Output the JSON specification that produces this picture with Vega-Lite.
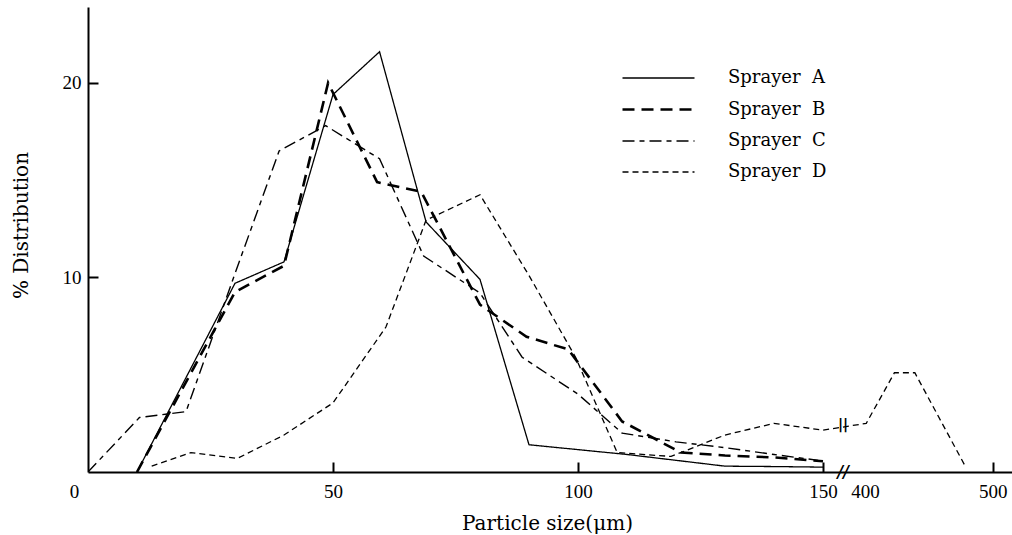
{
  "$schema": "https://vega.github.io/schema/vega-lite/v6.json",
  "width": 924,
  "height": 465,
  "autosize": "none",
  "padding": {"left": 88, "top": 7, "right": 0, "bottom": 63},
  "background": "white",
  "config": {"view": {"stroke": null}},
  "data": {"values": [
    {"s": "Sprayer A", "x": 10, "y": 0},
    {"s": "Sprayer A", "x": 30, "y": 9.7},
    {"s": "Sprayer A", "x": 40, "y": 10.8},
    {"s": "Sprayer A", "x": 50, "y": 19.4},
    {"s": "Sprayer A", "x": 59.5, "y": 21.6},
    {"s": "Sprayer A", "x": 69, "y": 12.85},
    {"s": "Sprayer A", "x": 80, "y": 9.9},
    {"s": "Sprayer A", "x": 90, "y": 1.4},
    {"s": "Sprayer A", "x": 100, "y": 1.15},
    {"s": "Sprayer A", "x": 110, "y": 0.9},
    {"s": "Sprayer A", "x": 120, "y": 0.6},
    {"s": "Sprayer A", "x": 130, "y": 0.3},
    {"s": "Sprayer A", "x": 140, "y": 0.28},
    {"s": "Sprayer A", "x": 150, "y": 0.25},
    {"s": "Sprayer B", "x": 10, "y": 0},
    {"s": "Sprayer B", "x": 30, "y": 9.25},
    {"s": "Sprayer B", "x": 40, "y": 10.6},
    {"s": "Sprayer B", "x": 49, "y": 20.0},
    {"s": "Sprayer B", "x": 59, "y": 14.9},
    {"s": "Sprayer B", "x": 68, "y": 14.4},
    {"s": "Sprayer B", "x": 80, "y": 8.6},
    {"s": "Sprayer B", "x": 89.5, "y": 6.95},
    {"s": "Sprayer B", "x": 98, "y": 6.3},
    {"s": "Sprayer B", "x": 109, "y": 2.6},
    {"s": "Sprayer B", "x": 121, "y": 1.0},
    {"s": "Sprayer B", "x": 130, "y": 0.85},
    {"s": "Sprayer B", "x": 140, "y": 0.75},
    {"s": "Sprayer B", "x": 150, "y": 0.55},
    {"s": "Sprayer C", "x": 0, "y": 0},
    {"s": "Sprayer C", "x": 10.5, "y": 2.8},
    {"s": "Sprayer C", "x": 20, "y": 3.1},
    {"s": "Sprayer C", "x": 30, "y": 10.2},
    {"s": "Sprayer C", "x": 39, "y": 16.5},
    {"s": "Sprayer C", "x": 48.5, "y": 17.8},
    {"s": "Sprayer C", "x": 59.5, "y": 16.1},
    {"s": "Sprayer C", "x": 68.5, "y": 11.1},
    {"s": "Sprayer C", "x": 80, "y": 9.2},
    {"s": "Sprayer C", "x": 88.6, "y": 5.9},
    {"s": "Sprayer C", "x": 100, "y": 4.0},
    {"s": "Sprayer C", "x": 109, "y": 2.0},
    {"s": "Sprayer C", "x": 120, "y": 1.55},
    {"s": "Sprayer C", "x": 130, "y": 1.25},
    {"s": "Sprayer C", "x": 140, "y": 0.9},
    {"s": "Sprayer C", "x": 149, "y": 0.6},
    {"s": "Sprayer D", "x": 13, "y": 0.3},
    {"s": "Sprayer D", "x": 21, "y": 1.0},
    {"s": "Sprayer D", "x": 30.5, "y": 0.7},
    {"s": "Sprayer D", "x": 40, "y": 1.9},
    {"s": "Sprayer D", "x": 50, "y": 3.55},
    {"s": "Sprayer D", "x": 60.8, "y": 7.45},
    {"s": "Sprayer D", "x": 69, "y": 12.95},
    {"s": "Sprayer D", "x": 80, "y": 14.25},
    {"s": "Sprayer D", "x": 90, "y": 10.1},
    {"s": "Sprayer D", "x": 99.5, "y": 5.9},
    {"s": "Sprayer D", "x": 108, "y": 1.0},
    {"s": "Sprayer D", "x": 119, "y": 0.8},
    {"s": "Sprayer D", "x": 130, "y": 1.9},
    {"s": "Sprayer D", "x": 140, "y": 2.5},
    {"s": "Sprayer D", "x": 150, "y": 2.15},
    {"s": "Sprayer D", "x": 401, "y": 2.5},
    {"s": "Sprayer D", "x": 423, "y": 5.1},
    {"s": "Sprayer D", "x": 439, "y": 5.1},
    {"s": "Sprayer D", "x": 478, "y": 0.35}
  ]},
  "layer": [
    {
      "mark": {"type": "line", "stroke": "black", "strokeJoin": "miter", "clip": true},
      "encoding": {
        "x": {
          "field": "x", "type": "quantitative",
          "scale": {"type": "linear", "domain": [0, 150, 400, 515], "range": [0, 735, 777, 924], "nice": false, "zero": false},
          "axis": {
            "values": [0, 50, 100, 150, 400, 500],
            "title": "Particle size(\u03bcm)",
            "titleFont": "DejaVu Serif", "titleFontSize": 20, "titleFontWeight": "normal", "titleColor": "black",
            "titleBaseline": "alphabetic", "titleY": 57, "titleX": 459, "titleAnchor": null, "titleAlign": "center",
            "labelFont": "Liberation Serif", "labelFontSize": 19, "labelColor": "black",
            "labelPadding": 20,
            "labelOffset": {"condition": {"test": "datum.value === 0", "value": -14}, "value": 0},
            "labelFlush": false, "labelOverlap": false,
            "domainColor": "black", "domainWidth": 2,
            "tickColor": "black", "tickWidth": 2, "tickSize": -10,
            "tickOpacity": {"condition": {"test": "datum.value === 0 || datum.value === 400", "value": 0}, "value": 1},
            "grid": false
          }
        },
        "y": {
          "field": "y", "type": "quantitative",
          "scale": {"domain": [0, 23.9], "nice": false, "zero": true},
          "axis": {
            "values": [10, 20],
            "title": "% Distribution",
            "titleFont": "DejaVu Serif", "titleFontSize": 20, "titleFontWeight": "normal", "titleColor": "black",
            "titleAngle": 270, "titleBaseline": "alphabetic", "titleAlign": "center",
            "titleX": -61, "titleY": 218, "titleAnchor": null,
            "labelFont": "Liberation Serif", "labelFontSize": 19, "labelColor": "black",
            "labelPadding": 17,
            "domainColor": "black", "domainWidth": 2,
            "tickColor": "black", "tickWidth": 2, "tickSize": -10,
            "grid": false
          }
        },
        "strokeDash": {
          "field": "s", "type": "nominal",
          "scale": {"domain": ["Sprayer A", "Sprayer B", "Sprayer C", "Sprayer D"], "range": [[1, 0], [12, 7], [12, 5, 5, 5], [6, 4]]},
          "legend": {
            "orient": "none", "legendX": 557, "legendY": 58, "title": null, "padding": 0,
            "symbolType": "M-3,0H3", "symbolSize": 576, "symbolStrokeColor": "black", "symbolFillColor": "transparent",
            "labelFont": "DejaVu Serif", "labelFontSize": 18, "labelColor": "black", "labelOffset": 56,
            "labelExpr": "replace(datum.label, ' ', '\u00a0\u00a0')",
            "rowPadding": 9
          }
        },
        "strokeWidth": {
          "field": "s", "type": "nominal",
          "scale": {"type": "ordinal", "domain": ["Sprayer A", "Sprayer B", "Sprayer C", "Sprayer D"], "range": [1.3, 2.6, 1.4, 1.3]}
        }
      }
    },
    {
      "data": {"values": [{}]},
      "mark": {"type": "text", "text": "//", "font": "DejaVu Serif", "fontSize": 16, "fontWeight": "bold", "fontStyle": "italic", "color": "black", "baseline": "middle", "align": "center"},
      "encoding": {"x": {"datum": 269}, "y": {"datum": 0}}
    },
    {
      "data": {"values": [{}]},
      "mark": {"type": "text", "text": "||", "font": "DejaVu Sans", "fontSize": 14, "fontWeight": "bold", "color": "black", "baseline": "middle", "align": "center"},
      "encoding": {"x": {"datum": 269}, "y": {"datum": 2.4}}
    }
  ]
}
